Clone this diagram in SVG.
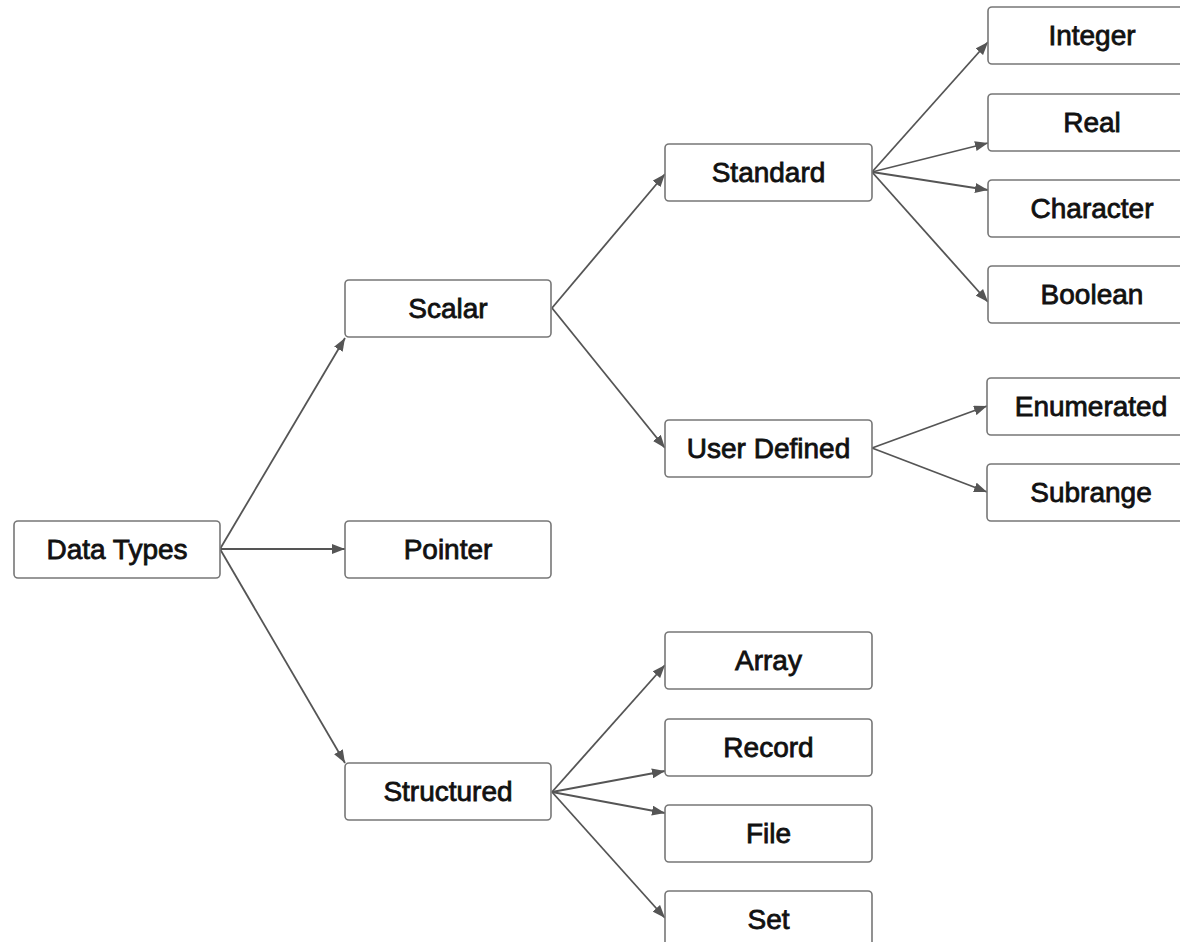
<svg xmlns="http://www.w3.org/2000/svg" width="1180" height="942" viewBox="0 0 1180 942">
<defs>
<marker id="arr" viewBox="0 0 13 10" refX="13" refY="5" markerWidth="13" markerHeight="10" markerUnits="userSpaceOnUse" orient="auto">
<path d="M0,0 L13,5 L0,10 Z" fill="#555"/>
</marker>
<style>
.box{fill:#fff;stroke:#777;stroke-width:1.6}
.lbl{font-family:"Liberation Sans",Arial,sans-serif;font-size:28px;fill:#111;stroke:#111;stroke-width:0.8;text-anchor:middle}
.edge{fill:none;stroke:#555;stroke-width:1.8;marker-end:url(#arr)}
</style>
</defs>
<rect width="1180" height="942" fill="#fff"/>
<g id="connectors">
<path class="edge" d="M220,549 L345,338"/>
<path class="edge" d="M220,549 L345,549"/>
<path class="edge" d="M220,549 L345,763"/>
<path class="edge" d="M552,308 L665,174"/>
<path class="edge" d="M552,308 L665,448"/>
<path class="edge" d="M872,172 L988,42"/>
<path class="edge" d="M872,172 L988,143"/>
<path class="edge" d="M872,172 L988,190"/>
<path class="edge" d="M872,172 L988,302"/>
<path class="edge" d="M872,448 L987,406"/>
<path class="edge" d="M872,448 L987,492"/>
<path class="edge" d="M552,792 L665,665"/>
<path class="edge" d="M552,792 L665,771"/>
<path class="edge" d="M552,792 L665,813"/>
<path class="edge" d="M552,792 L665,918"/>
</g>
<g id="data-types"><rect class="box" x="14" y="521" width="206" height="57" rx="4"/><text class="lbl" x="117" y="559">Data Types</text></g>
<g id="scalar"><rect class="box" x="345" y="280" width="206" height="57" rx="4"/><text class="lbl" x="448" y="318">Scalar</text></g>
<g id="pointer"><rect class="box" x="345" y="521" width="206" height="57" rx="4"/><text class="lbl" x="448" y="559">Pointer</text></g>
<g id="structured"><rect class="box" x="345" y="763" width="206" height="57" rx="4"/><text class="lbl" x="448" y="801">Structured</text></g>
<g id="standard"><rect class="box" x="665" y="144" width="207" height="57" rx="4"/><text class="lbl" x="768.5" y="182">Standard</text></g>
<g id="user-defined"><rect class="box" x="665" y="420" width="207" height="57" rx="4"/><text class="lbl" x="768.5" y="458">User Defined</text></g>
<g id="array"><rect class="box" x="665" y="632" width="207" height="57" rx="4"/><text class="lbl" x="768.5" y="670">Array</text></g>
<g id="record"><rect class="box" x="665" y="719" width="207" height="57" rx="4"/><text class="lbl" x="768.5" y="757">Record</text></g>
<g id="file"><rect class="box" x="665" y="805" width="207" height="57" rx="4"/><text class="lbl" x="768.5" y="843">File</text></g>
<g id="set"><rect class="box" x="665" y="891" width="207" height="57" rx="4"/><text class="lbl" x="768.5" y="929">Set</text></g>
<g id="integer"><rect class="box" x="988" y="7" width="207" height="57" rx="4"/><text class="lbl" x="1092" y="45">Integer</text></g>
<g id="real"><rect class="box" x="988" y="94" width="207" height="57" rx="4"/><text class="lbl" x="1092" y="132">Real</text></g>
<g id="character"><rect class="box" x="988" y="180" width="207" height="57" rx="4"/><text class="lbl" x="1092" y="218">Character</text></g>
<g id="boolean"><rect class="box" x="988" y="266" width="207" height="57" rx="4"/><text class="lbl" x="1092" y="304">Boolean</text></g>
<g id="enumerated"><rect class="box" x="987" y="378" width="207" height="57" rx="4"/><text class="lbl" x="1091" y="416">Enumerated</text></g>
<g id="subrange"><rect class="box" x="987" y="464" width="207" height="57" rx="4"/><text class="lbl" x="1091" y="502">Subrange</text></g>
</svg>
